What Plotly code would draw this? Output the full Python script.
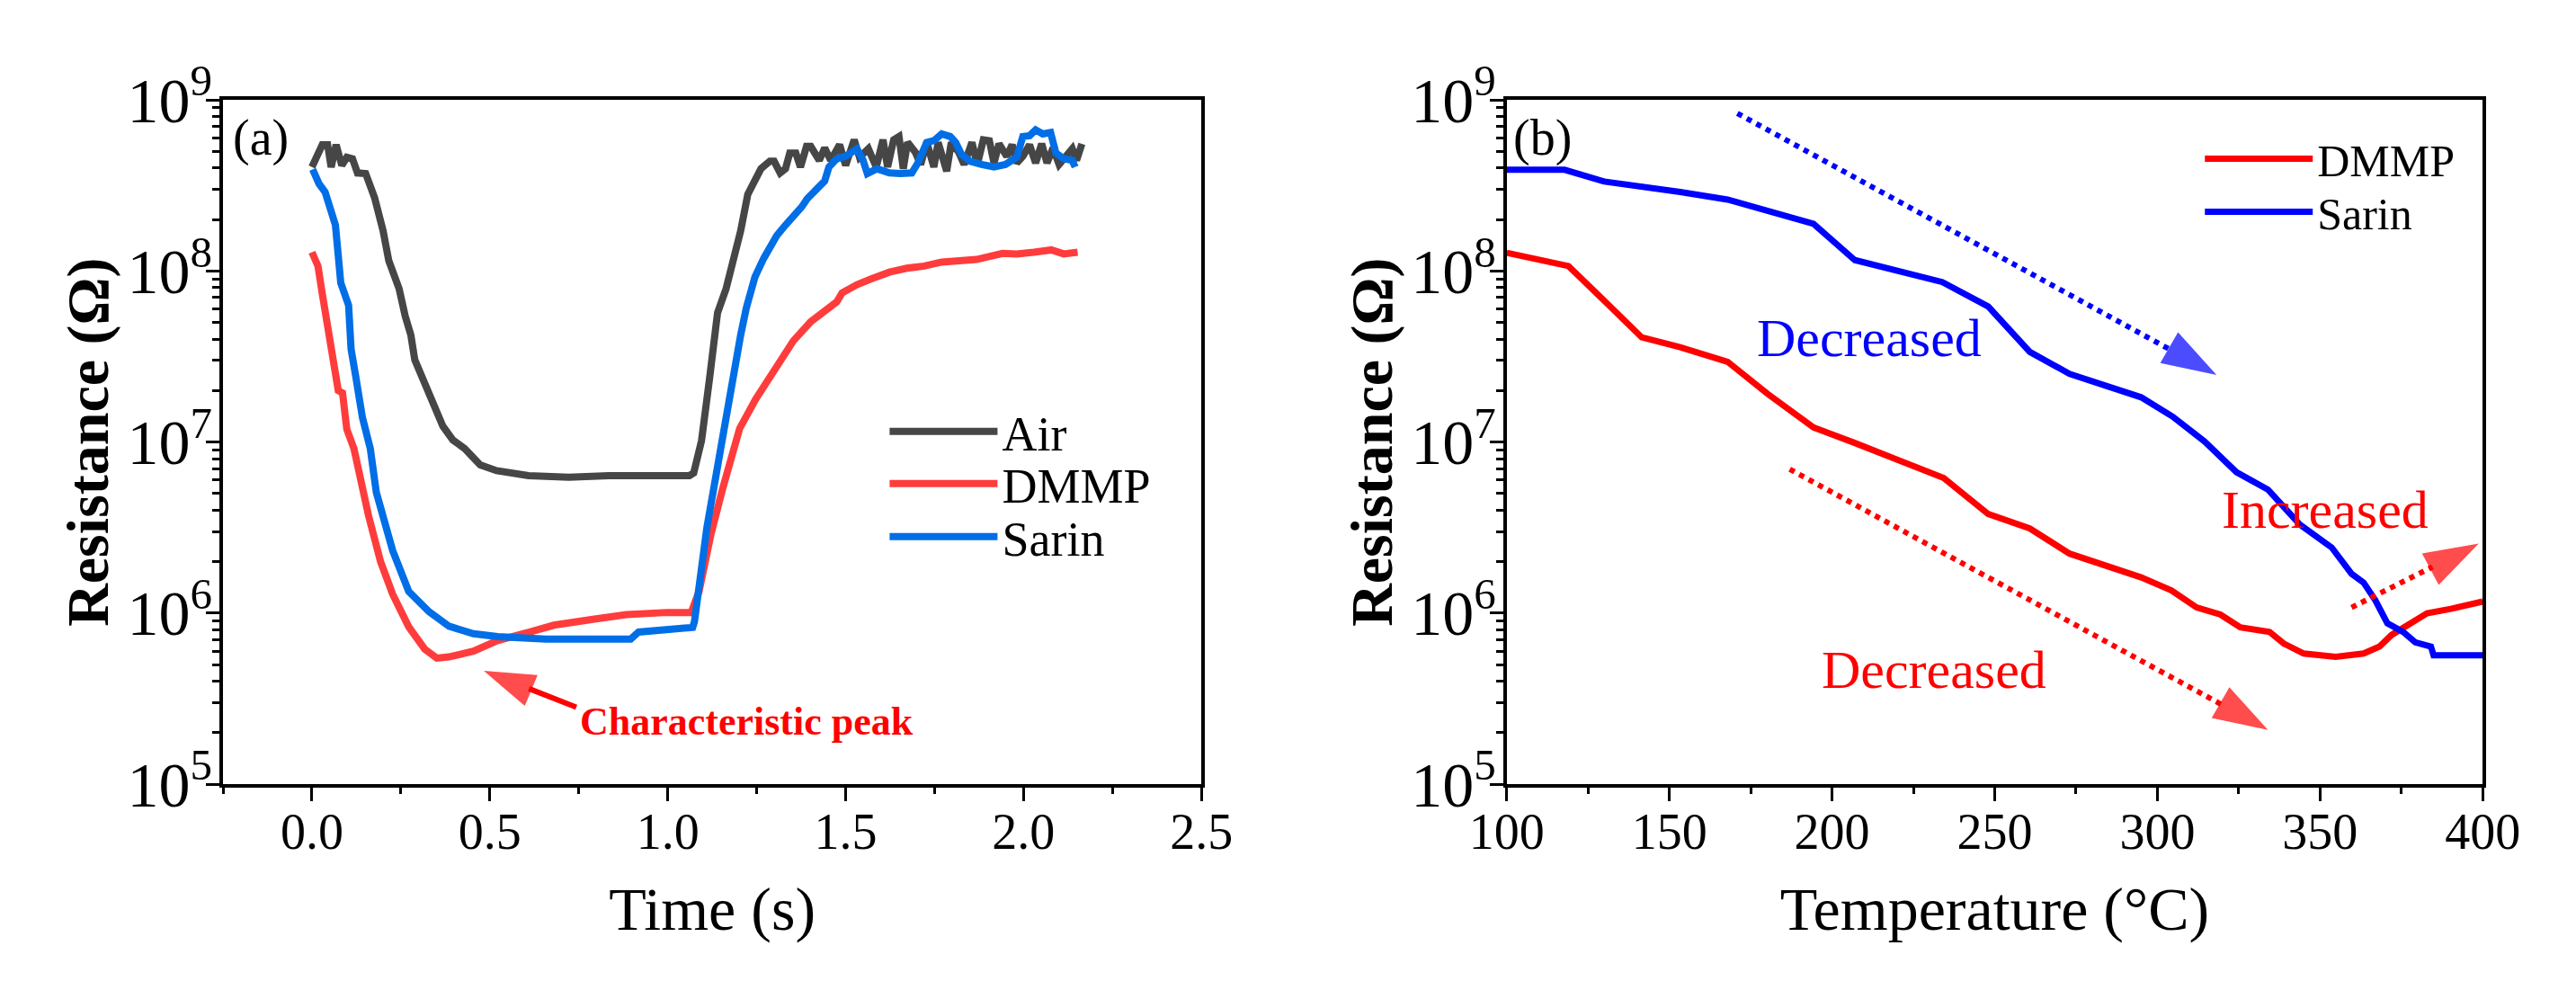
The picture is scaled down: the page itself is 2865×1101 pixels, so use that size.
import numpy as np
import plotly.graph_objects as go

# ---- panel (a): resistance vs time ----
air_t = [0.000, 0.029, 0.044, 0.054, 0.068, 0.084, 0.098, 0.114, 0.128, 0.151, 0.176, 0.200,
         0.216, 0.245, 0.262, 0.278, 0.289, 0.319, 0.339, 0.368, 0.396, 0.429, 0.473, 0.519,
         0.609, 0.722, 0.835, 1.061, 1.073, 1.095, 1.118, 1.140, 1.164, 1.189, 1.205, 1.225,
         1.245, 1.262, 1.287, 1.299, 1.316, 1.331, 1.343, 1.360, 1.373, 1.390, 1.402, 1.426,
         1.441, 1.458, 1.483, 1.500, 1.524, 1.539, 1.564, 1.586, 1.605, 1.618, 1.635, 1.650,
         1.662, 1.674, 1.696, 1.711, 1.728, 1.748, 1.760, 1.784, 1.797, 1.818, 1.833, 1.855,
         1.870, 1.887, 1.904, 1.917, 1.931, 1.953, 1.968, 1.981, 1.998, 2.017, 2.034, 2.051,
         2.066, 2.083, 2.100, 2.120, 2.137, 2.149, 2.164]
air_r = [4.06e8, 5.48e8, 5.48e8, 4.06e8, 5.48e8, 4.15e8, 4.63e8, 4.54e8, 3.75e8, 3.72e8, 2.69e8, 1.72e8,
         1.15e8, 7.89e7, 5.47e7, 4.23e7, 3.03e7, 2.17e7, 1.66e7, 1.24e7, 1.03e7, 9.18e6, 7.36e6, 6.81e6,
         6.37e6, 6.24e6, 6.37e6, 6.37e6, 6.61e6, 1.02e7, 2.40e7, 5.71e7, 7.90e7, 1.23e8, 1.72e8, 2.81e8,
         3.36e8, 3.97e8, 4.39e8, 4.39e8, 3.75e8, 3.97e8, 4.90e8, 4.90e8, 4.06e8, 5.36e8, 5.36e8, 4.44e8,
         5.25e8, 4.44e8, 5.48e8, 4.15e8, 5.86e8, 4.63e8, 5.19e8, 4.06e8, 5.86e8, 4.06e8, 5.86e8, 6.12e8,
         3.97e8, 5.66e8, 4.95e8, 4.20e8, 5.66e8, 4.06e8, 5.66e8, 3.84e8, 5.66e8, 4.95e8, 4.20e8, 5.66e8,
         4.20e8, 5.86e8, 5.79e8, 4.29e8, 5.55e8, 4.69e8, 5.48e8, 4.29e8, 4.69e8, 5.48e8, 4.29e8, 5.55e8,
         4.29e8, 5.25e8, 4.20e8, 4.80e8, 5.19e8, 4.44e8, 5.55e8]

dmmp_t = [0.000, 0.017, 0.029, 0.042, 0.056, 0.074, 0.086, 0.098, 0.118, 0.136, 0.159, 0.193,
          0.227, 0.272, 0.317, 0.351, 0.385, 0.454, 0.522, 0.612, 0.680, 0.794, 0.884, 0.998,
          1.066, 1.088, 1.122, 1.156, 1.202, 1.247, 1.293, 1.311, 1.353, 1.402, 1.434, 1.475,
          1.490, 1.532, 1.573, 1.623, 1.672, 1.721, 1.770, 1.818, 1.868, 1.941, 1.981, 2.029,
          2.078, 2.113, 2.152]
dmmp_r = [1.29e8, 1.07e8, 7.38e7, 5.06e7, 3.13e7, 2.00e7, 1.94e7, 1.19e7, 9.18e6, 6.17e6, 3.72e6, 2.00e6,
          1.29e6, 8.32e5, 6.17e5, 5.46e5, 5.55e5, 6.00e5, 6.92e5, 7.76e5, 8.51e5, 9.23e5, 9.82e5, 1.01e6,
          1.01e6, 1.34e6, 2.93e6, 5.50e6, 1.20e7, 1.78e7, 2.51e7, 2.86e7, 3.91e7, 5.06e7, 5.65e7, 6.61e7,
          7.46e7, 8.34e7, 9.02e7, 9.86e7, 1.04e8, 1.07e8, 1.13e8, 1.15e8, 1.17e8, 1.27e8, 1.26e8, 1.29e8,
          1.33e8, 1.26e8, 1.29e8]

sarin_t = [0.002, 0.020, 0.037, 0.054, 0.066, 0.074, 0.081, 0.103, 0.110, 0.123, 0.142, 0.164,
           0.181, 0.227, 0.272, 0.329, 0.385, 0.454, 0.522, 0.658, 0.839, 0.896, 0.918, 0.998,
           1.070, 1.075, 1.110, 1.152, 1.189, 1.205, 1.221, 1.245, 1.270, 1.306, 1.331, 1.360,
           1.377, 1.392, 1.409, 1.426, 1.441, 1.453, 1.475, 1.500, 1.515, 1.532, 1.549, 1.561,
           1.588, 1.623, 1.654, 1.686, 1.703, 1.728, 1.748, 1.770, 1.794, 1.809, 1.826, 1.850,
           1.882, 1.917, 1.949, 1.981, 1.998, 2.017, 2.034, 2.054, 2.076, 2.091, 2.113, 2.137,
           2.145]
sarin_r = [3.93e8, 3.24e8, 2.90e8, 2.25e8, 1.86e8, 1.23e8, 8.53e7, 6.31e7, 3.50e7, 2.43e7, 1.39e7, 9.18e6,
           5.08e6, 2.32e6, 1.34e6, 1.02e6, 8.39e5, 7.59e5, 7.29e5, 7.06e5, 7.06e5, 7.06e5, 7.76e5, 8.07e5,
           8.26e5, 8.9e5, 3.16e6, 1.00e7, 2.90e7, 4.23e7, 6.11e7, 9.23e7, 1.19e8, 1.61e8, 1.86e8, 2.15e8,
           2.38e8, 2.65e8, 2.90e8, 3.14e8, 3.36e8, 4.06e8, 4.54e8, 4.69e8, 4.90e8, 5.19e8, 4.44e8, 3.72e8,
           3.97e8, 3.75e8, 3.72e8, 3.75e8, 4.29e8, 5.66e8, 5.79e8, 6.34e8, 6.12e8, 5.66e8, 4.80e8, 4.39e8,
           4.20e8, 4.06e8, 4.20e8, 4.63e8, 6.12e8, 6.19e8, 6.70e8, 6.34e8, 6.47e8, 4.90e8, 4.54e8, 4.44e8,
           4.06e8]

# ---- panel (b): resistance vs temperature ----
dmmp_temp = [100, 119, 130, 141.5, 153.3, 167.9, 180.1, 194.3, 207, 221.7, 234.3, 248, 260.8, 273,
             285.2, 295, 304.3, 312.1, 319.4, 325.5, 334.5, 338.9, 345, 354.8, 363.4, 368.3, 372,
             378, 382.9, 390.2, 400]
dmmp_temp_r = [1.28e8, 1.07e8, 6.71e7, 4.10e7, 3.59e7, 2.95e7, 1.92e7, 1.22e7, 9.89e6, 7.62e6, 6.17e6,
               3.80e6, 3.13e6, 2.23e6, 1.87e6, 1.62e6, 1.36e6, 1.08e6, 9.82e5, 8.26e5, 7.76e5, 6.64e5,
               5.81e5, 5.55e5, 5.81e5, 6.38e5, 7.46e5, 8.73e5, 9.98e5, 1.06e6, 1.17e6]

sarin_temp = [100, 117.8, 130, 141, 153.3, 167.9, 182.6, 194.3, 207, 221.7, 233.9, 248, 260.8, 273,
              295, 304.7, 314.5, 324.3, 334, 343.8, 348.7, 353.6, 359.7, 363.4, 367, 370.7, 375.6,
              379.3, 384.1, 384.9, 400]
sarin_temp_r = [3.91e8, 3.91e8, 3.34e8, 3.14e8, 2.90e8, 2.62e8, 2.21e8, 1.89e8, 1.16e8, 9.93e7, 8.63e7,
                6.21e7, 3.37e7, 2.51e7, 1.83e7, 1.41e7, 1.01e7, 6.68e6, 5.28e6, 3.30e6, 2.82e6, 2.42e6,
                1.70e6, 1.51e6, 1.19e6, 8.73e5, 7.76e5, 6.75e5, 6.38e5, 5.68e5, 5.68e5]

# arrows: [start, tip]
peak_arrow_x = [0.743, 0.483]
peak_arrow_y = [2.82e5, 4.60e5]
blue_arrow_x = [170.9, 318.2]
blue_arrow_y = [8.36e8, 2.47e7]
red_arrow_x = [187, 334]
red_arrow_y = [6.95e6, 2.08e5]
inc_arrow_x = [359.7, 398.8]
inc_arrow_y = [1.08e6, 2.55e6]

FONT = "Liberation Serif"

fig = go.Figure()

# one legend per entry so the rows sit where the original has them
fig.add_trace(go.Scatter(x=air_t, y=air_r, name="Air", mode="lines",
                         line=dict(color="#464646", width=8), xaxis="x", yaxis="y", legend="legend"))
fig.add_trace(go.Scatter(x=dmmp_t, y=dmmp_r, name="DMMP", mode="lines",
                         line=dict(color="#ff3c3c", width=8), xaxis="x", yaxis="y", legend="legend2"))
fig.add_trace(go.Scatter(x=sarin_t, y=sarin_r, name="Sarin", mode="lines",
                         line=dict(color="#006ee6", width=8), xaxis="x", yaxis="y", legend="legend3"))

fig.add_trace(go.Scatter(x=dmmp_temp, y=dmmp_temp_r, name="DMMP", mode="lines",
                         line=dict(color="#ff0000", width=7), xaxis="x2", yaxis="y2", legend="legend4"))
fig.add_trace(go.Scatter(x=sarin_temp, y=sarin_temp_r, name="Sarin", mode="lines",
                         line=dict(color="#0000ff", width=7), xaxis="x2", yaxis="y2", legend="legend5"))


def arrow(xs, ys, color, dash, ax, ay, width=6, head=64):
    fig.add_trace(go.Scatter(
        x=xs, y=ys, mode="lines+markers", showlegend=False, hoverinfo="skip",
        line=dict(color=color, width=width, dash=dash),
        marker=dict(symbol="arrow", size=[0, head], color=color, angleref="previous",
                    line=dict(width=0)),
        xaxis=ax, yaxis=ay))


arrow(peak_arrow_x, peak_arrow_y, "#ff0000", "solid", "x", "y", width=6, head=60)
arrow(blue_arrow_x, blue_arrow_y, "#0000ff", "dot", "x2", "y2")
arrow(red_arrow_x, red_arrow_y, "#ff0000", "dot", "x2", "y2")
arrow(inc_arrow_x, inc_arrow_y, "#ff0000", "dot", "x2", "y2")

ax_common = dict(showline=True, linecolor="black", linewidth=3.5, mirror=True,
                 ticks="outside", ticklen=15, tickwidth=3, tickcolor="black",
                 showgrid=False, zeroline=False,
                 tickfont=dict(family=FONT, size=56, color="black"))
x_common = dict(ticklabelstandoff=-14, **ax_common)
y_common = dict(ticklabelstandoff=-18, type="log", range=[5, 9], dtick=1, exponentformat="power",
                minor=dict(dtick="D1", ticks="outside", ticklen=8, tickwidth=2.5, tickcolor="black"),
                **ax_common)


def leg(x, y_px, size):
    return dict(x=x, y=1 - y_px / 1101, xanchor="left", yanchor="middle", bgcolor="rgba(0,0,0,0)",
                font=dict(family=FONT, size=size), itemwidth=120)


fig.update_layout(
    width=2865, height=1101, autosize=False,
    margin=dict(l=0, r=0, t=0, b=0),
    paper_bgcolor="white", plot_bgcolor="white",
    font=dict(family=FONT, color="black"),
    xaxis=dict(domain=[0.0712, 0.4625], range=[-0.25, 2.5], dtick=0.5, tickformat=".1f",
               minor=dict(dtick=0.25, ticks="outside", ticklen=7, tickwidth=3, tickcolor="black"),
               title=dict(text="Time (s)", font=dict(family=FONT, size=68), standoff=32),
               anchor="y", **x_common),
    yaxis=dict(domain=[0.1953, 0.9464],
               title=dict(text="<b>Resistance (Ω)</b>", font=dict(family=FONT, size=66), standoff=0),
               anchor="x", **y_common),
    xaxis2=dict(domain=[0.5846, 0.9749], range=[100, 400], dtick=50,
                minor=dict(dtick=25, ticks="outside", ticklen=7, tickwidth=3, tickcolor="black"),
                title=dict(text="Temperature (°C)", font=dict(family=FONT, size=68), standoff=32),
                anchor="y2", **x_common),
    yaxis2=dict(domain=[0.1953, 0.9464],
                title=dict(text="<b>Resistance (Ω)</b>", font=dict(family=FONT, size=66), standoff=0),
                anchor="x2", **y_common),
    legend=leg(0.336, 460, 54),
    legend2=leg(0.336, 523, 54),
    legend3=leg(0.336, 587, 54),
    legend4=leg(0.862, 130, 50),
    legend5=leg(0.862, 194, 50),
)

labels = [
    dict(text="(a)", x=0.008, y=0.944, xref="x domain", yref="y domain"),
    dict(text="(b)", x=0.005, y=0.944, xref="x2 domain", yref="y2 domain"),
]
for lab in labels:
    fig.add_annotation(text=lab["text"], x=lab["x"], y=lab["y"], xref=lab["xref"], yref=lab["yref"],
                       xanchor="left", yanchor="middle", showarrow=False,
                       font=dict(family=FONT, size=56, color="black"))

# text notes placed in data coordinates (log axis -> log10 of value)
notes = [
    ("<b>Characteristic peak</b>", 1.223, 2.33e5, "x", "y", "#ff0000", 44),
    ("Decreased", 211.4, 4.04e7, "x2", "y2", "#0000ff", 60),
    ("Decreased", 231.4, 4.67e5, "x2", "y2", "#ff0000", 60),
    ("Increased", 351.6, 4.02e6, "x2", "y2", "#ff0000", 60),
]
for text, nx, ny, xr, yr, col, size in notes:
    fig.add_annotation(text=text, x=nx, y=np.log10(ny), xref=xr, yref=yr, showarrow=False,
                       font=dict(family=FONT, size=size, color=col))

fig.write_html("out.html")
